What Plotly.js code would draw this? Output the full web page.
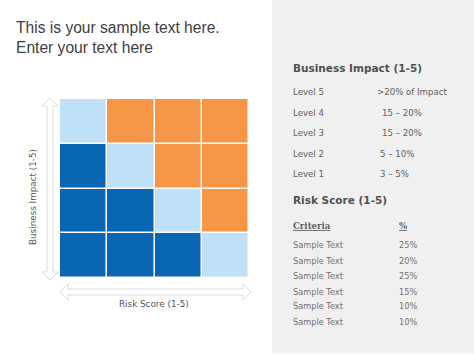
<!DOCTYPE html>
<html><head><meta charset="utf-8">
<script src="https://cdn.plot.ly/plotly-3.0.1.min.js"></script>
<style>html,body{margin:0;padding:0;background:#fff}#chart{width:474px;height:355px}</style>
</head><body><div id="chart"></div>
<script>
// ---- data ----
const riskScores = [1, 2, 3, 4];            // x categories
const impactLevels = [1, 2, 3, 4];          // y categories (bottom to top)
// zone code per cell: 0 = low (dark blue), 1 = medium (light blue), 2 = high (orange)
const zoneRow1 = [0, 0, 0, 1];
const zoneRow2 = [0, 0, 1, 2];
const zoneRow3 = [0, 1, 2, 2];
const zoneRow4 = [1, 2, 2, 2];
const zoneColors = ['#0866B4', '#BEE1F8', '#F79646'];

const titleLines = ['This is your sample text here.', 'Enter your text here'];
const impactHeading = 'Business Impact (1-5)';
const levelNames = ['Level 5', 'Level 4', 'Level 3', 'Level 2', 'Level 1'];
const levelValues = ['>20% of Impact', '15 – 20%', '15 – 20%', '5 – 10%', '3 – 5%'];
const riskHeading = 'Risk Score (1-5)';
const criteriaHeader = ['Criteria', '%'];
const criteriaNames = ['Sample Text', 'Sample Text', 'Sample Text', 'Sample Text', 'Sample Text', 'Sample Text'];
const criteriaPct = ['25%', '20%', '25%', '15%', '10%', '10%'];
const xAxisLabel = 'Risk Score (1-5)';
const yAxisLabel = 'Business Impact (1-5)';

// ---- layout helpers ----
const W = 474, H = 355;
const px = x => x / W;
const py = y => 1 - y / H;

const z = [zoneRow1, zoneRow2, zoneRow3, zoneRow4];
const colorscale = [
  [0, zoneColors[0]], [0.3333, zoneColors[0]],
  [0.3334, zoneColors[1]], [0.6666, zoneColors[1]],
  [0.6667, zoneColors[2]], [1, zoneColors[2]]
];

const trace = {
  type: 'heatmap', x: riskScores, y: impactLevels, z: z,
  zmin: 0, zmax: 2, colorscale: colorscale, showscale: false,
  xgap: 1.5, ygap: 1.5, hoverinfo: 'skip'
};

const ann = [];
const font = (size, color, family) => ({size: size, color: color, family: family || 'DejaVu Sans'});
function t(text, x, y, f, opts) {
  ann.push(Object.assign({text: text, xref: 'paper', yref: 'paper', x: px(x), y: py(y),
    xanchor: 'left', yanchor: 'middle', showarrow: false, font: f}, opts || {}));
}
titleLines.forEach((s, i) => t(s, 14, 27 + i * 20, font(15.6, '#404040', 'Liberation Sans')));
t('<b>' + impactHeading + '</b>', 291, 68, font(10.5, '#505050'));
levelNames.forEach((s, i) => t(s, 291, 92 + i * 20.6, font(8.6, '#606060')));
const valX = [375, 380, 380, 378, 378];
levelValues.forEach((s, i) => t(s, valX[i], 92 + i * 20.6, font(8.6, '#606060')));
t('<b>' + riskHeading + '</b>', 291, 200, font(10.5, '#505050'));
t('<b><u>' + criteriaHeader[0] + '</u></b>', 291, 226, font(8.6, '#606060', 'DejaVu Serif'));
t('<b><u>' + criteriaHeader[1] + '</u></b>', 397, 226, font(8.6, '#606060', 'DejaVu Serif'));
const rowY = [245, 261, 276, 292, 306, 322];
criteriaNames.forEach((s, i) => t(s, 291, rowY[i], font(8.2, '#707070')));
criteriaPct.forEach((s, i) => t(s, 397, rowY[i], font(8.2, '#707070')));
t(xAxisLabel, 154, 304, font(8.8, '#555555'), {xanchor: 'center'});
t(yAxisLabel, 33, 197, font(8.8, '#555555'), {xanchor: 'center', textangle: -90});

// arrow shapes (pixel -> paper)
function pathFromPts(pts) {
  return 'M' + pts.map(p => px(p[0]).toFixed(5) + ',' + py(p[1]).toFixed(5)).join(' L') + ' Z';
}
// vertical double arrow, center x=50, from y=98 to y=280
const vx = 50, vt = 98, vb = 280, hw = 8, sw = 3, hl = 8;
const vArrow = [[vx, vt], [vx + hw, vt + hl], [vx + sw, vt + hl], [vx + sw, vb - hl], [vx + hw, vb - hl],
  [vx, vb], [vx - hw, vb - hl], [vx - sw, vb - hl], [vx - sw, vt + hl], [vx - hw, vt + hl]];
// horizontal double arrow, center y=292, from x=60 to x=251
const hy = 292, hlx = 60, hrx = 251;
const hArrow = [[hlx, hy], [hlx + hl, hy - hw], [hlx + hl, hy - sw], [hrx - hl, hy - sw], [hrx - hl, hy - hw],
  [hrx, hy], [hrx - hl, hy + hw], [hrx - hl, hy + sw], [hlx + hl, hy + sw], [hlx + hl, hy + hw]];

const shapes = [
  {type: 'rect', xref: 'paper', yref: 'paper', x0: px(272), x1: 1, y0: py(353), y1: 1,
   fillcolor: '#F0F0F0', line: {width: 0}, layer: 'below'},
  {type: 'path', xref: 'paper', yref: 'paper', path: pathFromPts(vArrow),
   fillcolor: '#FFFFFF', line: {color: '#DCDCDC', width: 1}},
  {type: 'path', xref: 'paper', yref: 'paper', path: pathFromPts(hArrow),
   fillcolor: '#FFFFFF', line: {color: '#DCDCDC', width: 1}}
];

const layout = {
  width: W, height: H, margin: {l: 0, r: 0, t: 0, b: 0},
  paper_bgcolor: '#FFFFFF', plot_bgcolor: '#FFFFFF', showlegend: false,
  xaxis: {domain: [px(60), px(249)], showticklabels: false, showgrid: false, zeroline: false,
          ticks: '', showline: false, fixedrange: true},
  yaxis: {domain: [py(278), py(99)], showticklabels: false, showgrid: false, zeroline: false,
          ticks: '', showline: false, fixedrange: true},
  shapes: shapes, annotations: ann
};

Plotly.newPlot('chart', [trace], layout, {staticPlot: true, displayModeBar: false});
</script>
</body></html>
